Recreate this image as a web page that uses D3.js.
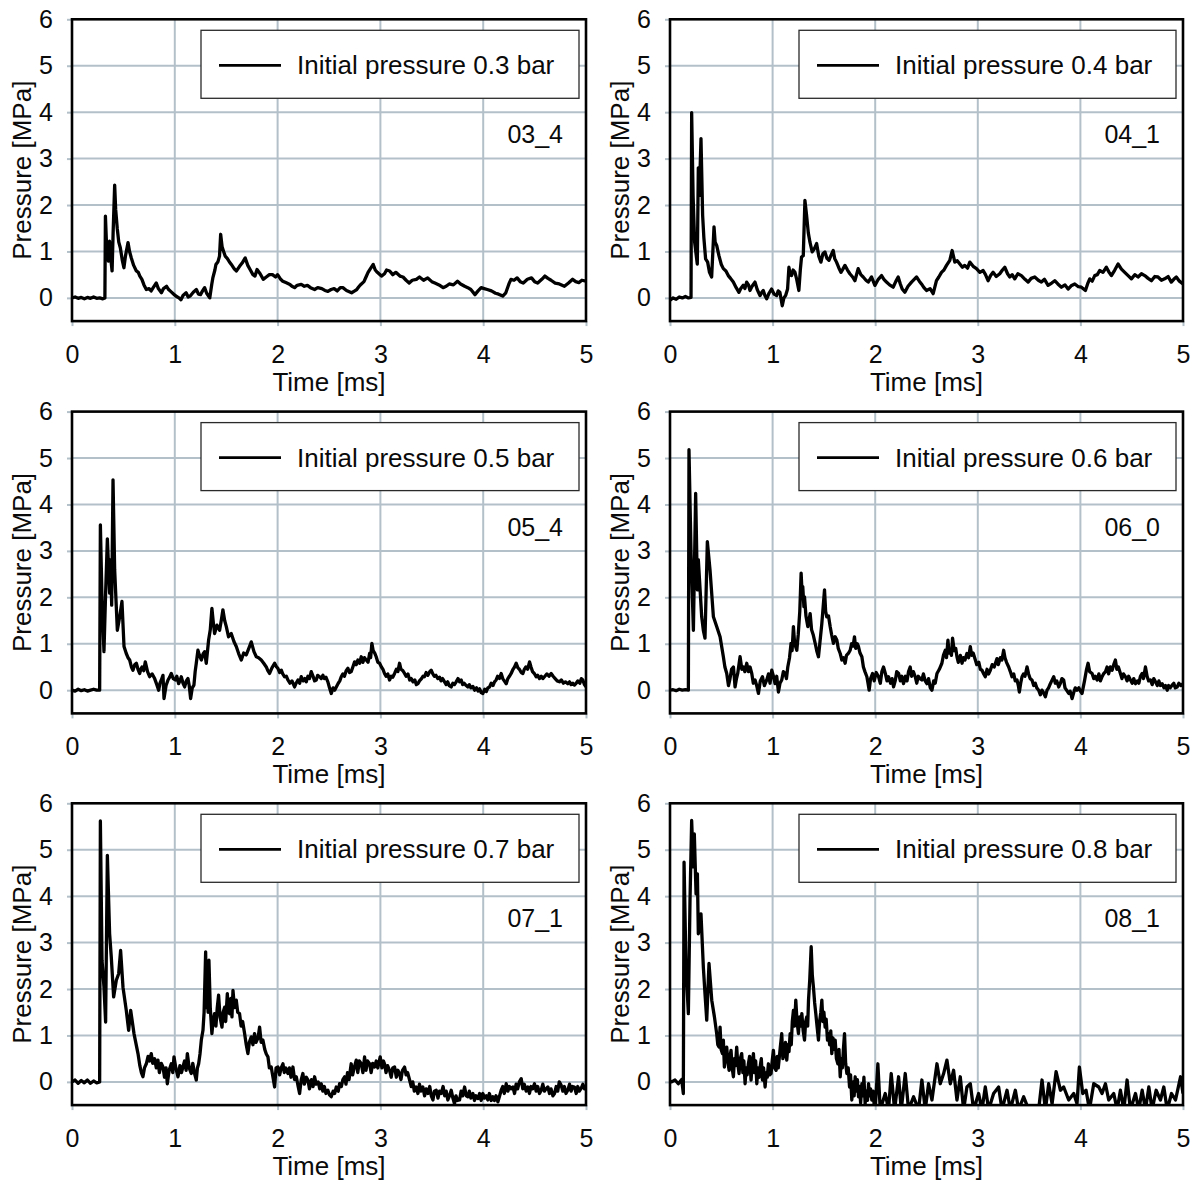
<!DOCTYPE html>
<html><head><meta charset="utf-8">
<script src="https://cdn.jsdelivr.net/npm/d3@7"></script>
<style>
body{margin:0;background:#fff}
svg{display:block}
text{font-family:"Liberation Sans",Arial,Helvetica,sans-serif;fill:#0a0a0a}
</style>
</head><body>
<svg id="c" width="1197" height="1182"></svg>
<script>
// ---------------- DATA ----------------
const panelIds = ["03_4","04_1","05_4","06_0","07_1","08_1"];
const legendLabels = ["Initial pressure 0.3 bar","Initial pressure 0.4 bar","Initial pressure 0.5 bar","Initial pressure 0.6 bar","Initial pressure 0.7 bar","Initial pressure 0.8 bar"];
const xTicks = [0,1,2,3,4,5];
const yTicks = [0,1,2,3,4,5,6];
const xLabel = "Time [ms]";
const yLabel = "Pressure [MPa]";

// [time ms, pressure MPa]
const trace03_4 = [[0,0.0],[0.03,0.02],[0.06,-0.01],[0.09,0.01],[0.12,-0.02],[0.15,0.01],[0.18,-0.01],[0.21,0.02],[0.24,-0.01],[0.27,0.0],[0.30,-0.02],[0.32,0.0],
[0.325,1.76],[0.335,1.2],[0.345,0.95],[0.355,0.79],[0.365,1.22],[0.375,0.9],[0.39,0.58],[0.40,1.4],[0.415,2.43],[0.425,1.9],[0.44,1.5],[0.455,1.2],[0.47,1.08],[0.49,0.8],[0.505,0.65],[0.52,0.9],[0.545,1.19],[0.56,1.0],[0.577,0.86],[0.6,0.7],[0.626,0.58],[0.645,0.55],[0.66,0.47],[0.68,0.4],[0.70,0.28],[0.723,0.18],[0.75,0.2],[0.77,0.15],[0.79,0.22],[0.82,0.32],[0.84,0.2],[0.87,0.11],[0.89,0.2],[0.92,0.25],[0.94,0.18],[0.96,0.14],[0.99,0.08],[1.01,0.04],[1.04,0.0],[1.06,-0.04],[1.08,0.05],[1.11,0.11],[1.13,0.02],[1.15,0.04],[1.18,0.12],[1.21,0.18],[1.23,0.08],[1.25,0.07],[1.27,0.15],[1.29,0.22],[1.31,0.1],[1.34,0.0],[1.36,0.3],[1.37,0.43],[1.39,0.6],[1.40,0.72],[1.42,0.78],[1.435,0.9],[1.446,1.37],[1.46,1.1],[1.475,1.0],[1.49,0.9],[1.51,0.85],[1.53,0.78],[1.55,0.72],[1.58,0.62],[1.60,0.58],[1.63,0.68],[1.655,0.75],[1.685,0.86],[1.71,0.7],[1.735,0.6],[1.76,0.5],[1.78,0.47],[1.80,0.61],[1.83,0.52],[1.86,0.40],[1.89,0.45],[1.92,0.5],[1.95,0.5],[1.98,0.45],[2.0,0.5],[2.03,0.4],[2.05,0.36],[2.08,0.33],[2.12,0.29],[2.14,0.25],[2.165,0.22],[2.19,0.27],[2.23,0.29],[2.26,0.25],[2.29,0.27],[2.32,0.22],[2.36,0.18],[2.39,0.22],[2.43,0.2],[2.46,0.16],[2.49,0.14],[2.52,0.18],[2.55,0.2],[2.58,0.15],[2.61,0.22],[2.635,0.22],[2.67,0.16],[2.72,0.11],[2.75,0.15],[2.77,0.18],[2.79,0.24],[2.81,0.29],[2.84,0.35],[2.86,0.45],[2.88,0.55],[2.9,0.62],[2.93,0.72],[2.95,0.6],[2.97,0.55],[3.01,0.47],[3.04,0.52],[3.06,0.6],[3.09,0.58],[3.12,0.5],[3.15,0.55],[3.19,0.47],[3.22,0.45],[3.25,0.38],[3.28,0.32],[3.31,0.38],[3.35,0.4],[3.38,0.45],[3.42,0.38],[3.46,0.43],[3.5,0.35],[3.53,0.32],[3.57,0.28],[3.61,0.22],[3.64,0.25],[3.67,0.3],[3.71,0.28],[3.75,0.36],[3.78,0.3],[3.82,0.25],[3.85,0.22],[3.88,0.18],[3.92,0.07],[3.95,0.15],[3.98,0.22],[4.01,0.2],[4.04,0.18],[4.08,0.15],[4.12,0.1],[4.15,0.08],[4.19,0.04],[4.22,0.11],[4.25,0.3],[4.27,0.4],[4.30,0.38],[4.33,0.43],[4.36,0.35],[4.39,0.32],[4.43,0.4],[4.47,0.43],[4.5,0.35],[4.53,0.32],[4.57,0.4],[4.6,0.47],[4.63,0.42],[4.66,0.38],[4.7,0.32],[4.74,0.3],[4.79,0.25],[4.83,0.32],[4.87,0.4],[4.9,0.35],[4.93,0.33],[4.96,0.38],[5.0,0.36]];

const trace04_1 = [[0,-0.05],[0.03,0.0],[0.06,-0.03],[0.09,0.02],[0.12,0.0],[0.15,0.03],[0.18,0.0],[0.205,0.01],
[0.211,3.99],[0.225,2.2],[0.24,1.2],[0.266,0.73],[0.276,2.80],[0.286,2.21],[0.302,3.43],[0.318,1.78],[0.33,1.3],[0.347,0.84],[0.367,0.77],[0.385,0.55],[0.406,0.45],[0.429,1.53],[0.44,1.2],[0.455,1.13],[0.477,0.91],[0.5,0.72],[0.52,0.63],[0.545,0.58],[0.568,0.48],[0.59,0.42],[0.617,0.34],[0.645,0.22],[0.672,0.12],[0.69,0.2],[0.714,0.27],[0.73,0.2],[0.747,0.34],[0.765,0.28],[0.779,0.16],[0.8,0.25],[0.828,0.34],[0.85,0.18],[0.877,0.05],[0.895,0.12],[0.909,0.16],[0.925,0.05],[0.942,-0.02],[0.965,0.1],[0.99,0.19],[1.015,0.08],[1.039,0.05],[1.055,0.15],[1.071,0.12],[1.094,-0.17],[1.11,0.0],[1.127,0.05],[1.146,0.19],[1.159,0.66],[1.172,0.5],[1.185,0.48],[1.2,0.6],[1.218,0.55],[1.235,0.4],[1.256,0.16],[1.27,0.6],[1.282,0.88],[1.299,0.91],[1.315,2.10],[1.331,1.78],[1.348,1.4],[1.364,1.20],[1.386,0.99],[1.405,1.05],[1.429,1.17],[1.45,0.9],[1.471,0.77],[1.49,0.95],[1.51,0.99],[1.53,0.85],[1.549,0.81],[1.57,0.92],[1.591,1.02],[1.605,0.85],[1.623,0.77],[1.645,0.65],[1.666,0.55],[1.685,0.62],[1.705,0.70],[1.73,0.6],[1.753,0.52],[1.78,0.45],[1.802,0.37],[1.834,0.63],[1.86,0.5],[1.883,0.45],[1.91,0.38],[1.932,0.34],[1.964,0.45],[1.997,0.27],[2.03,0.4],[2.062,0.48],[2.085,0.4],[2.11,0.34],[2.14,0.28],[2.175,0.23],[2.2,0.35],[2.224,0.45],[2.245,0.3],[2.263,0.19],[2.289,0.12],[2.32,0.25],[2.354,0.34],[2.38,0.4],[2.403,0.45],[2.43,0.36],[2.451,0.30],[2.475,0.22],[2.5,0.16],[2.535,0.2],[2.565,0.09],[2.597,0.37],[2.62,0.45],[2.646,0.55],[2.67,0.6],[2.695,0.70],[2.727,0.81],[2.75,1.02],[2.776,0.77],[2.8,0.8],[2.825,0.73],[2.85,0.66],[2.873,0.70],[2.9,0.64],[2.922,0.77],[2.955,0.68],[2.987,0.63],[3.02,0.55],[3.052,0.59],[3.075,0.5],[3.1,0.37],[3.125,0.48],[3.149,0.55],[3.18,0.46],[3.214,0.52],[3.24,0.6],[3.263,0.66],[3.29,0.52],[3.312,0.45],[3.335,0.5],[3.36,0.41],[3.39,0.52],[3.425,0.48],[3.46,0.4],[3.49,0.34],[3.52,0.42],[3.555,0.45],[3.59,0.38],[3.62,0.34],[3.65,0.4],[3.685,0.27],[3.72,0.32],[3.75,0.37],[3.78,0.3],[3.815,0.23],[3.85,0.28],[3.88,0.19],[3.91,0.26],[3.945,0.30],[3.98,0.24],[4.01,0.23],[4.049,0.16],[4.07,0.3],[4.091,0.41],[4.115,0.36],[4.14,0.48],[4.165,0.5],[4.188,0.59],[4.22,0.55],[4.253,0.66],[4.28,0.55],[4.302,0.48],[4.335,0.6],[4.367,0.73],[4.4,0.62],[4.432,0.55],[4.465,0.48],[4.497,0.41],[4.53,0.5],[4.562,0.45],[4.595,0.52],[4.627,0.48],[4.66,0.42],[4.692,0.37],[4.725,0.46],[4.756,0.45],[4.79,0.38],[4.821,0.41],[4.855,0.46],[4.886,0.34],[4.91,0.4],[4.935,0.45],[4.965,0.36],[5.0,0.30]];

const trace05_4 = [[0,0.0],[0.03,-0.02],[0.06,0.02],[0.09,-0.01],[0.12,0.01],[0.15,-0.02],[0.18,0.0],[0.21,0.02],[0.24,0.0],[0.269,0.0],
[0.276,3.56],[0.292,1.94],[0.311,0.83],[0.327,2.09],[0.344,3.26],[0.366,2.09],[0.376,2.81],[0.386,1.83],[0.399,4.53],[0.415,2.59],[0.441,1.29],[0.464,1.58],[0.486,1.91],[0.506,0.94],[0.528,0.79],[0.545,0.7],[0.561,0.65],[0.578,0.5],[0.593,0.43],[0.61,0.55],[0.626,0.58],[0.642,0.45],[0.658,0.36],[0.67,0.45],[0.681,0.50],[0.697,0.42],[0.713,0.61],[0.735,0.4],[0.755,0.29],[0.78,0.35],[0.804,0.25],[0.825,0.12],[0.843,0.0],[0.856,0.15],[0.869,0.22],[0.885,0.32],[0.895,-0.18],[0.915,0.1],[0.934,0.22],[0.95,0.28],[0.966,0.36],[0.985,0.25],[1.005,0.22],[1.02,0.3],[1.037,0.14],[1.05,0.2],[1.063,0.29],[1.08,0.15],[1.096,0.07],[1.112,0.2],[1.128,0.25],[1.14,0.1],[1.154,-0.18],[1.17,0.05],[1.186,0.11],[1.198,0.4],[1.209,0.58],[1.225,0.86],[1.24,0.75],[1.258,0.65],[1.275,0.78],[1.29,0.83],[1.306,0.58],[1.329,1.08],[1.345,1.3],[1.361,1.76],[1.375,1.45],[1.387,1.22],[1.41,1.40],[1.436,1.29],[1.452,1.5],[1.468,1.73],[1.485,1.5],[1.501,1.37],[1.523,1.15],[1.549,1.22],[1.575,1.05],[1.598,0.94],[1.621,0.79],[1.647,0.65],[1.67,0.8],[1.695,0.76],[1.72,0.9],[1.744,1.04],[1.77,0.83],[1.793,0.72],[1.815,0.7],[1.841,0.65],[1.865,0.58],[1.89,0.50],[1.905,0.42],[1.922,0.36],[1.945,0.48],[1.971,0.58],[1.99,0.5],
[2.003,0.47],[2.02,0.38],[2.036,0.43],[2.05,0.35],[2.068,0.29],[2.085,0.3],[2.1,0.22],[2.12,0.15],[2.14,0.2],[2.165,0.07],[2.18,0.15],[2.198,0.22],[2.215,0.15],[2.23,0.29],[2.25,0.2],[2.265,0.25],[2.279,0.18],[2.295,0.3],[2.31,0.25],[2.327,0.40],[2.345,0.3],[2.36,0.2],[2.376,0.22],[2.39,0.32],[2.408,0.29],[2.425,0.25],[2.441,0.32],[2.455,0.25],[2.47,0.28],[2.489,0.18],[2.505,0.05],[2.522,-0.07],[2.54,0.05],[2.555,0.0],[2.571,0.07],[2.59,0.15],[2.605,0.2],[2.619,0.29],[2.635,0.35],[2.65,0.3],[2.667,0.42],[2.684,0.47],[2.7,0.38],[2.716,0.40],[2.732,0.5],[2.749,0.61],[2.765,0.55],[2.781,0.65],[2.798,0.58],[2.814,0.72],[2.83,0.6],[2.845,0.7],[2.862,0.65],[2.88,0.6],[2.895,0.79],[2.905,0.7],[2.917,1.01],[2.93,0.85],[2.945,0.8],[2.959,0.72],[2.975,0.6],[2.992,0.58],[3.01,0.5],[3.025,0.45],[3.04,0.36],[3.055,0.3],[3.072,0.35],[3.089,0.22],[3.105,0.3],[3.12,0.28],[3.138,0.36],[3.155,0.45],[3.17,0.4],[3.186,0.58],[3.2,0.45],[3.218,0.42],[3.235,0.36],[3.25,0.3],[3.268,0.35],[3.285,0.22],[3.3,0.25],[3.318,0.18],[3.335,0.22],[3.35,0.12],[3.365,0.14],[3.38,0.2],[3.4,0.25],[3.415,0.3],[3.429,0.29],[3.445,0.38],[3.462,0.32],[3.48,0.4],[3.494,0.43],[3.51,0.35],[3.525,0.3],[3.54,0.32],[3.559,0.25],[3.575,0.28],[3.59,0.2],[3.605,0.25],[3.624,0.18],[3.64,0.12],[3.655,0.18],[3.67,0.1],[3.689,0.07],[3.705,0.15],[3.72,0.12],[3.737,0.18],[3.755,0.25],[3.77,0.18],[3.786,0.22],[3.8,0.12],[3.815,0.15],[3.835,0.1],[3.851,0.07],[3.865,0.12],[3.88,0.05],[3.9,0.08],[3.916,0.0],[3.935,0.05],[3.95,-0.02],[3.965,0.03],[3.98,-0.05],[3.997,-0.07],[4.015,0.02],[4.03,-0.03],[4.045,0.05],[4.062,0.07],[4.078,0.15],[4.095,0.1],[4.11,0.18],[4.126,0.22],[4.14,0.3],[4.158,0.25],[4.175,0.36],[4.19,0.25],[4.205,0.2],[4.224,0.14],[4.24,0.25],[4.255,0.3],[4.272,0.36],[4.29,0.45],[4.305,0.5],[4.321,0.58],[4.338,0.48],[4.352,0.45],[4.37,0.38],[4.386,0.36],[4.4,0.45],[4.415,0.5],[4.432,0.45],[4.451,0.61],[4.465,0.5],[4.48,0.4],[4.5,0.35],[4.515,0.29],[4.53,0.32],[4.548,0.25],[4.565,0.3],[4.58,0.25],[4.6,0.3],[4.62,0.35],[4.64,0.3],[4.661,0.36],[4.68,0.3],[4.7,0.25],[4.72,0.2],[4.742,0.18],[4.76,0.22],[4.78,0.15],[4.8,0.18],[4.823,0.14],[4.84,0.18],[4.855,0.12],[4.872,0.15],[4.888,0.11],[4.905,0.15],[4.92,0.2],[4.94,0.15],[4.955,0.25],[4.969,0.22],[4.985,0.12],[5.0,0.07]];

const trace06_0 = [[0,0.0],[0.03,0.01],[0.06,-0.01],[0.09,0.02],[0.12,0.0],[0.15,0.01],[0.179,0.0],
[0.185,5.18],[0.205,2.95],[0.228,1.29],[0.25,4.24],[0.267,2.16],[0.276,2.81],[0.309,1.58],[0.325,1.29],[0.341,1.12],[0.364,3.20],[0.39,2.59],[0.423,1.58],[0.455,1.37],[0.488,1.15],[0.52,0.72],
[0.535,0.5],[0.553,0.36],[0.57,0.1],[0.585,0.25],[0.6,0.45],[0.618,0.50],[0.626,0.3],[0.634,0.07],[0.648,0.25],[0.66,0.36],[0.672,0.55],[0.683,0.72],[0.7,0.45],[0.715,0.50],[0.73,0.4],[0.748,0.58],[0.765,0.4],[0.78,0.5],[0.797,0.36],[0.812,0.15],[0.829,0.22],[0.845,0.1],[0.862,-0.07],[0.88,0.2],[0.901,0.29],[0.92,0.1],[0.943,0.22],[0.96,0.35],[0.975,0.15],[0.992,0.43],[1.008,0.3],[1.024,0.14],[1.04,0.3],[1.057,-0.04],[1.072,0.15],[1.089,0.22],[1.105,0.4],[1.122,0.36],[1.135,0.25],[1.148,0.50],
[1.165,0.7],[1.18,1.01],[1.19,0.85],[1.203,1.37],[1.215,1.0],[1.236,0.86],[1.25,1.2],[1.265,1.7],[1.278,2.52],[1.287,2.1],[1.294,2.23],[1.305,1.8],[1.311,2.01],[1.325,1.6],[1.343,1.37],[1.355,1.5],[1.366,1.65],[1.38,1.3],[1.395,1.2],[1.415,1.01],[1.43,0.85],[1.447,0.72],[1.46,1.0],[1.48,1.44],[1.493,1.8],[1.506,2.16],[1.517,1.7],[1.528,1.58],[1.545,1.6],[1.561,1.37],[1.575,1.2],[1.593,1.01],[1.61,1.15],[1.626,1.08],[1.64,0.9],[1.659,0.79],[1.675,0.65],[1.69,0.7],[1.707,0.58],[1.72,0.75],[1.74,0.8],[1.756,0.86],[1.77,1.0],[1.785,0.95],[1.798,1.15],[1.81,0.9],[1.825,1.0],[1.837,0.94],[1.852,0.8],[1.87,0.72],[1.885,0.5],[1.9,0.4],[1.919,0.29],[1.93,0.15],[1.941,0.0],
[1.955,0.25],[1.974,0.36],[1.99,0.2],[2.01,0.38],[2.033,0.29],[2.05,0.15],[2.065,0.4],[2.081,0.50],[2.1,0.35],[2.115,0.2],[2.13,0.29],[2.15,0.15],[2.165,0.25],[2.179,0.07],[2.195,0.2],[2.21,0.4],[2.228,0.36],[2.245,0.2],[2.26,0.3],[2.276,0.14],[2.295,0.3],[2.31,0.2],[2.325,0.4],[2.341,0.50],[2.355,0.3],[2.372,0.4],[2.39,0.29],[2.405,0.15],[2.42,0.3],[2.437,0.25],[2.455,0.22],[2.47,0.35],[2.487,0.2],[2.504,0.14],[2.52,0.25],[2.537,0.05],[2.553,0.0],[2.57,0.2],[2.585,0.15],[2.602,0.36],[2.625,0.45],[2.65,0.58],
[2.665,0.75],[2.683,0.86],[2.695,0.7],[2.709,1.08],[2.72,0.8],[2.732,0.86],[2.743,0.75],[2.754,1.12],[2.77,0.85],[2.785,0.9],[2.797,0.72],[2.81,0.6],[2.83,0.75],[2.846,0.58],[2.86,0.7],[2.875,0.65],[2.894,0.79],[2.91,0.7],[2.927,0.94],[2.94,0.75],[2.955,0.8],[2.976,0.65],[2.99,0.55],[3.01,0.6],[3.025,0.45],[3.041,0.43],[3.058,0.35],[3.073,0.29],[3.09,0.45],[3.105,0.35],[3.122,0.43],[3.14,0.55],[3.16,0.5],[3.187,0.68],[3.2,0.55],[3.22,0.7],[3.235,0.65],[3.252,0.86],[3.265,0.7],[3.28,0.6],[3.301,0.50],[3.317,0.4],[3.333,0.29],[3.35,0.35],[3.365,0.2],[3.382,0.22],[3.395,0.1],[3.405,-0.04],[3.418,0.15],[3.431,0.29],[3.445,0.35],[3.46,0.3],[3.48,0.50],[3.495,0.35],[3.51,0.25],[3.528,0.22],[3.545,0.1],[3.56,0.15],[3.575,0.05],[3.593,0.0],[3.61,-0.1],[3.625,0.0],[3.64,-0.05],[3.659,-0.14],[3.675,0.0],[3.69,0.05],[3.707,0.14],[3.72,0.2],[3.74,0.29],[3.755,0.15],[3.77,0.2],[3.789,0.07],[3.805,0.15],[3.82,0.25],[3.837,0.22],[3.85,0.05],[3.865,0.0],[3.886,-0.07],[3.9,-0.02],[3.919,-0.18],[3.935,-0.05],[3.95,0.05],[3.967,0.0],[3.985,0.05],[4.0,-0.02],[4.016,-0.07],[4.04,0.2],[4.06,0.45],[4.075,0.58],[4.09,0.4],[4.114,0.36],[4.13,0.25],[4.145,0.3],[4.163,0.22],[4.18,0.35],[4.195,0.2],[4.211,0.29],[4.225,0.35],[4.245,0.4],[4.26,0.50],[4.275,0.35],[4.292,0.5],[4.309,0.43],[4.325,0.55],[4.341,0.65],[4.355,0.45],[4.37,0.5],[4.39,0.36],[4.405,0.25],[4.42,0.35],[4.439,0.29],[4.455,0.2],[4.47,0.3],[4.488,0.22],[4.505,0.15],[4.52,0.25],[4.537,0.14],[4.555,0.2],[4.57,0.15],[4.585,0.3],[4.602,0.36],[4.615,0.25],[4.634,0.50],[4.65,0.3],[4.665,0.2],[4.683,0.22],[4.7,0.12],[4.715,0.25],[4.732,0.18],[4.75,0.1],[4.765,0.2],[4.78,0.1],[4.797,0.14],[4.815,0.05],[4.83,0.1],[4.846,0.0],[4.86,0.1],[4.875,0.05],[4.894,0.11],[4.91,0.15],[4.925,0.05],[4.943,0.07],[4.96,0.15],[4.98,0.1],[5.0,0.14]];

const trace07_1 = [[0,0.0],[0.03,0.04],[0.06,-0.03],[0.09,0.03],[0.12,-0.02],[0.15,0.04],[0.18,-0.03],[0.21,0.02],[0.24,-0.02],[0.269,0.0],
[0.276,5.62],[0.292,2.62],[0.311,2.04],[0.327,1.29],[0.344,4.88],[0.366,3.19],[0.382,2.69],[0.405,1.83],[0.431,2.19],[0.454,2.33],[0.473,2.83],[0.496,2.04],[0.528,1.54],[0.551,1.11],[0.571,1.54],[0.603,1.04],[0.642,0.61],
[0.66,0.35],[0.675,0.2],[0.69,0.11],[0.705,0.3],[0.723,0.39],[0.74,0.55],[0.755,0.45],[0.771,0.61],[0.785,0.4],[0.804,0.50],[0.82,0.3],[0.836,0.47],[0.85,0.2],[0.868,0.4],[0.885,0.32],[0.9,0.1],[0.915,0.3],[0.927,-0.04],[0.945,0.25],[0.966,0.39],[0.98,0.2],[0.992,0.54],[1.01,0.3],[1.031,0.11],[1.05,0.35],[1.065,0.2],[1.079,0.32],[1.095,0.45],[1.11,0.25],[1.122,0.61],[1.14,0.3],[1.16,0.18],[1.175,0.4],[1.19,0.2],[1.209,0.04],[1.22,0.3],[1.232,0.39],[1.245,0.6],[1.258,0.90],[1.274,1.11],[1.285,1.5],[1.3,2.80],[1.308,1.6],[1.316,2.04],[1.324,1.5],[1.332,2.62],[1.345,1.6],[1.361,1.04],[1.372,1.3],[1.387,1.47],[1.4,1.2],[1.413,1.6],[1.426,1.87],[1.44,1.4],[1.459,1.18],[1.47,1.5],[1.485,1.61],[1.495,1.3],[1.511,1.90],[1.52,1.5],[1.533,1.47],[1.545,1.8],[1.556,1.4],[1.566,1.97],[1.58,1.6],[1.598,1.76],[1.612,1.5],[1.63,1.47],[1.645,1.2],[1.66,1.3],[1.679,1.04],[1.695,0.8],[1.711,0.61],[1.725,0.85],[1.744,0.97],[1.76,0.8],[1.776,1.04],[1.79,0.85],[1.81,0.95],[1.825,1.18],[1.84,0.85],[1.857,0.90],[1.875,0.7],[1.89,0.6],[1.906,0.54],[1.92,0.3],[1.938,0.32],[1.955,0.1],[1.971,-0.11],[1.985,0.3],[2.003,0.32],[2.02,0.15],[2.035,0.3],[2.052,0.39],[2.065,0.2],[2.08,0.3],[2.1,0.18],[2.115,0.3],[2.13,0.1],[2.149,0.32],[2.165,0.05],[2.182,0.11],[2.2,-0.1],[2.214,-0.25],[2.23,0.05],[2.246,0.18],[2.26,-0.05],[2.28,0.1],[2.295,0.04],[2.31,-0.15],[2.33,0.05],[2.345,-0.1],[2.36,0.11],[2.375,-0.05],[2.395,0.0],[2.41,-0.15],[2.425,-0.04],[2.44,-0.2],[2.455,-0.1],[2.47,-0.25],[2.489,-0.18],[2.505,-0.28],[2.522,-0.32],[2.54,-0.2],[2.555,-0.25],[2.571,-0.11],[2.59,-0.2],[2.603,-0.04],[2.62,-0.1],[2.635,0.05],[2.652,0.11],[2.665,-0.05],[2.68,0.2],[2.695,0.05],[2.716,0.39],[2.73,0.15],[2.745,0.3],[2.765,0.47],[2.78,0.2],[2.795,0.45],[2.814,0.39],[2.83,0.2],[2.846,0.54],[2.86,0.25],[2.875,0.45],[2.895,0.39],[2.91,0.2],[2.925,0.4],[2.943,0.32],[2.96,0.45],[2.975,0.3],[2.998,0.54],[3.015,0.3],[3.03,0.45],[3.04,0.39],[3.055,0.2],[3.07,0.35],[3.089,0.25],[3.105,0.1],[3.12,0.3],[3.138,0.32],[3.155,0.1],[3.17,0.25],[3.186,0.18],[3.2,0.05],[3.215,0.25],[3.235,0.32],[3.25,0.15],[3.265,0.2],[3.284,0.04],[3.3,-0.1],[3.315,0.0],[3.33,-0.2],[3.348,-0.11],[3.365,-0.25],[3.38,-0.05],[3.395,-0.2],[3.413,-0.11],[3.43,-0.3],[3.445,-0.15],[3.462,-0.25],[3.48,-0.1],[3.495,-0.3],[3.511,-0.39],[3.525,-0.2],[3.543,-0.18],[3.56,-0.35],[3.575,-0.2],[3.592,-0.25],[3.61,-0.1],[3.625,-0.3],[3.64,-0.2],[3.656,-0.39],[3.672,-0.3],[3.689,-0.18],[3.705,-0.35],[3.721,-0.47],[3.735,-0.3],[3.75,-0.4],[3.77,-0.39],[3.785,-0.2],[3.8,-0.3],[3.819,-0.11],[3.835,-0.3],[3.851,-0.32],[3.865,-0.2],[3.88,-0.35],[3.9,-0.25],[3.915,-0.4],[3.93,-0.3],[3.948,-0.36],[3.965,-0.25],[3.98,-0.4],[3.997,-0.25],[4.012,-0.35],[4.03,-0.3],[4.045,-0.39],[4.06,-0.25],[4.078,-0.4],[4.094,-0.32],[4.11,-0.4],[4.125,-0.3],[4.143,-0.43],[4.16,-0.3],[4.175,-0.18],[4.19,-0.1],[4.205,-0.25],[4.224,-0.04],[4.24,-0.2],[4.255,-0.1],[4.27,-0.15],[4.289,-0.11],[4.305,-0.25],[4.32,-0.05],[4.335,-0.15],[4.352,0.0],[4.37,0.07],[4.385,-0.15],[4.4,-0.05],[4.418,-0.2],[4.435,-0.11],[4.45,-0.25],[4.465,-0.1],[4.48,-0.15],[4.499,-0.04],[4.515,-0.2],[4.53,-0.1],[4.548,-0.25],[4.564,-0.18],[4.58,-0.05],[4.595,-0.2],[4.612,-0.15],[4.629,-0.11],[4.645,-0.25],[4.66,-0.15],[4.678,-0.3],[4.694,-0.25],[4.71,-0.1],[4.725,-0.2],[4.74,0.0],[4.758,-0.07],[4.775,-0.2],[4.79,-0.1],[4.805,-0.25],[4.823,-0.18],[4.84,-0.05],[4.855,-0.2],[4.87,-0.1],[4.888,-0.11],[4.905,-0.25],[4.92,-0.1],[4.935,-0.2],[4.953,-0.14],[4.97,-0.05],[4.985,-0.15],[5.0,-0.07]];

const trace08_1 = [[0,0.02],[0.016,0.0],[0.049,0.04],[0.081,-0.04],[0.114,0.05],[0.13,-0.25],
[0.137,4.73],[0.156,2.47],[0.179,1.47],[0.195,3.91],[0.211,5.63],[0.228,4.63],[0.237,5.34],[0.254,4.05],[0.267,4.48],[0.276,3.19],[0.289,3.34],[0.302,3.62],[0.325,2.47],[0.341,1.90],[0.358,1.33],[0.38,2.55],[0.407,1.76],[0.433,1.40],
[0.455,1.04],[0.466,0.8],[0.478,0.75],[0.488,1.18],[0.498,0.7],[0.511,0.61],[0.52,0.9],[0.53,0.32],[0.541,0.6],[0.553,0.75],[0.563,0.45],[0.576,0.25],[0.585,0.55],[0.595,0.68],[0.606,0.3],[0.618,0.11],[0.628,0.5],[0.638,0.35],[0.65,0.75],[0.66,0.4],[0.673,0.18],[0.685,0.5],[0.699,0.61],[0.71,0.2],[0.72,0.45],[0.732,-0.04],[0.742,0.3],[0.752,0.15],[0.764,0.39],[0.776,0.55],[0.79,0.04],[0.8,0.35],[0.813,0.61],[0.824,0.2],[0.835,0.45],[0.846,-0.04],[0.857,0.3],[0.868,0.1],[0.878,0.32],[0.89,0.5],[0.901,0.04],[0.912,0.3],[0.927,-0.11],[0.938,0.2],[0.948,0.1],[0.959,0.39],[0.97,0.15],[0.985,0.18],[0.996,0.45],[1.008,0.68],[1.02,0.3],[1.034,0.25],[1.045,0.55],[1.055,0.3],[1.063,0.47],[1.075,0.75],[1.089,1.04],[1.1,0.5],[1.115,0.61],[1.126,0.85],[1.138,0.47],[1.15,0.8],[1.16,0.65],[1.171,1.04],[1.182,0.8],[1.192,1.3],[1.203,1.54],[1.214,1.2],[1.226,1.76],[1.238,1.3],[1.252,1.04],[1.262,1.4],[1.273,1.2],[1.285,1.47],[1.298,1.1],[1.311,0.90],[1.322,1.3],[1.333,1.40],[1.342,1.2],[1.35,1.76],[1.362,2.2],[1.376,2.91],[1.387,2.3],[1.398,2.04],[1.41,1.7],[1.421,1.47],[1.433,1.2],[1.447,0.90],[1.458,1.3],[1.47,1.5],[1.48,1.76],[1.49,1.3],[1.5,1.5],[1.512,1.18],[1.522,1.35],[1.535,0.9],[1.545,1.04],[1.556,0.8],[1.567,1.1],[1.577,0.61],[1.588,0.95],[1.6,0.7],[1.61,0.90],[1.622,0.5],[1.636,0.39],[1.647,0.7],[1.659,0.11],[1.67,0.5],[1.68,0.3],[1.69,0.7],[1.701,1.04],[1.712,0.4],[1.724,0.18],[1.737,0.3],[1.75,-0.11],[1.76,0.15],[1.772,-0.39],[1.785,0.0],[1.795,-0.3],[1.805,0.11],[1.815,-0.2],[1.826,0.05],[1.837,-0.32],[1.848,-0.1],[1.858,-0.45],[1.87,-0.04],[1.88,-0.3],[1.89,0.1],[1.902,-0.47],[1.913,-0.2],[1.925,-0.4],[1.935,-0.04],[1.945,-0.3],[1.955,-0.15],[1.967,-0.39],[1.98,-0.2],[1.99,-0.5],
[2.0,-0.6],[2.026,0.39],[2.049,-0.6],[2.098,-0.25],[2.13,-0.6],[2.156,0.18],[2.189,-0.6],[2.228,0.11],[2.254,-0.6],[2.293,0.18],[2.325,-0.6],[2.374,-0.32],[2.423,-0.6],[2.455,0.04],[2.488,-0.6],[2.52,-0.04],[2.553,-0.39],[2.602,0.39],[2.634,-0.04],[2.667,0.18],[2.699,0.47],[2.732,-0.04],[2.764,0.25],[2.797,-0.39],[2.829,0.11],[2.862,-0.6],[2.894,-0.11],[2.927,-0.04],[2.959,-0.6],[3.008,-0.25],[3.041,-0.6],[3.073,-0.11],[3.106,-0.6],[3.154,-0.25],[3.203,-0.11],[3.236,-0.6],[3.285,-0.18],[3.317,-0.6],[3.366,-0.18],[3.398,-0.6],[3.447,-0.32],[3.496,-0.6],[3.593,-0.6],[3.626,0.04],[3.659,-0.6],[3.691,-0.04],[3.724,-0.47],[3.763,0.22],[3.805,-0.18],[3.837,-0.11],[3.886,-0.39],[3.935,-0.25],[3.967,-0.47],[3.99,0.32],[4.023,-0.25],[4.055,-0.18],[4.088,-0.6],[4.13,-0.04],[4.179,-0.11],[4.211,-0.25],[4.244,-0.04],[4.276,-0.39],[4.325,-0.25],[4.358,-0.6],[4.39,-0.18],[4.423,-0.6],[4.455,0.04],[4.488,-0.6],[4.537,-0.25],[4.569,-0.6],[4.602,-0.18],[4.634,-0.6],[4.667,-0.11],[4.699,-0.6],[4.738,-0.18],[4.78,-0.39],[4.813,-0.11],[4.846,-0.6],[4.888,-0.25],[4.927,-0.39],[4.976,0.11],[5.0,-0.25]];

const traces = [trace03_4, trace04_1, trace05_4, trace06_0, trace07_1, trace08_1];

// ---------------- DRAW ----------------
const svg = d3.select("#c");
const cols = [[72, 586], [670, 1183]];
const rowTops = [19.3, 411.6, 803.3];
const plotH = 301.8;
const gridColor = "#b3c0c9";

traces.forEach((data, i) => {
  const c = i % 2, r = Math.floor(i / 2);
  const [x0, x1] = cols[c];
  const top = rowTops[r], bottom = top + plotH;
  const x = d3.scaleLinear().domain([0, 5]).range([x0, x1]);
  const y = d3.scaleLinear().domain([-0.5, 6]).range([bottom, top]);
  const g = svg.append("g");

  // grid
  g.selectAll("line.gx").data(xTicks.filter(t => t > 0 && t < 5)).join("line")
    .attr("x1", d => x(d)).attr("x2", d => x(d)).attr("y1", top).attr("y2", bottom)
    .attr("stroke", gridColor).attr("stroke-width", 2);
  g.selectAll("line.gy").data(yTicks.filter(t => t < 6)).join("line")
    .attr("x1", x0).attr("x2", x1).attr("y1", d => y(d)).attr("y2", d => y(d))
    .attr("stroke", gridColor).attr("stroke-width", 2);

  // axes (ticks + labels)
  const ax = g.append("g").attr("transform", `translate(0,${bottom})`)
    .call(d3.axisBottom(x).tickValues(xTicks).tickSize(5).tickSizeOuter(0).tickPadding(19).tickFormat(d3.format("d")));
  const ay = g.append("g").attr("transform", `translate(${x0},0)`)
    .call(d3.axisLeft(y).tickValues(yTicks).tickSize(5).tickSizeOuter(0).tickPadding(14).tickFormat(d3.format("d")));
  [ax, ay].forEach(a => {
    a.select(".domain").remove();
    a.selectAll(".tick line").attr("stroke", gridColor).attr("stroke-width", 2);
    a.selectAll(".tick text").attr("font-size", 25).attr("fill", "#0a0a0a")
      .attr("font-family", '"Liberation Sans",Arial,sans-serif');
  });

  // trace
  const clipId = "clip" + i;
  svg.append("clipPath").attr("id", clipId).append("rect")
    .attr("x", x0).attr("y", top).attr("width", x1 - x0).attr("height", plotH);
  g.append("path").datum(data)
    .attr("clip-path", `url(#${clipId})`)
    .attr("fill", "none").attr("stroke", "#000").attr("stroke-width", 3.3)
    .attr("stroke-linejoin", "round")
    .attr("d", d3.line().x(d => x(d[0])).y(d => y(d[1])));

  // legend
  const lx = x0 + 129, ly = top + 11, lw = (x1 - 7) - lx, lh = 68;
  g.append("rect").attr("x", lx).attr("y", ly).attr("width", lw).attr("height", lh)
    .attr("fill", "#fff").attr("stroke", "#2a2a2a").attr("stroke-width", 1.3);
  g.append("line").attr("x1", lx + 18).attr("x2", lx + 80).attr("y1", ly + 35).attr("y2", ly + 35)
    .attr("stroke", "#000").attr("stroke-width", 2.8);
  g.append("text").attr("x", lx + 96).attr("y", ly + 44).attr("font-size", 26).text(legendLabels[i]);

  // id label
  g.append("text").attr("x", x1 - 23).attr("y", top + 124).attr("text-anchor", "end")
    .attr("font-size", 25).text(panelIds[i]);

  // border
  g.append("rect").attr("x", x0).attr("y", top).attr("width", x1 - x0).attr("height", plotH)
    .attr("fill", "none").attr("stroke", "#000").attr("stroke-width", 2.6);

  // axis titles
  g.append("text").attr("x", (x0 + x1) / 2).attr("y", bottom + 70).attr("text-anchor", "middle")
    .attr("font-size", 26).text(xLabel);
  g.append("text").attr("transform", `translate(${x0 - 41},${(top + bottom) / 2}) rotate(-90)`)
    .attr("text-anchor", "middle").attr("font-size", 26).text(yLabel);
});
</script>
</body></html>
